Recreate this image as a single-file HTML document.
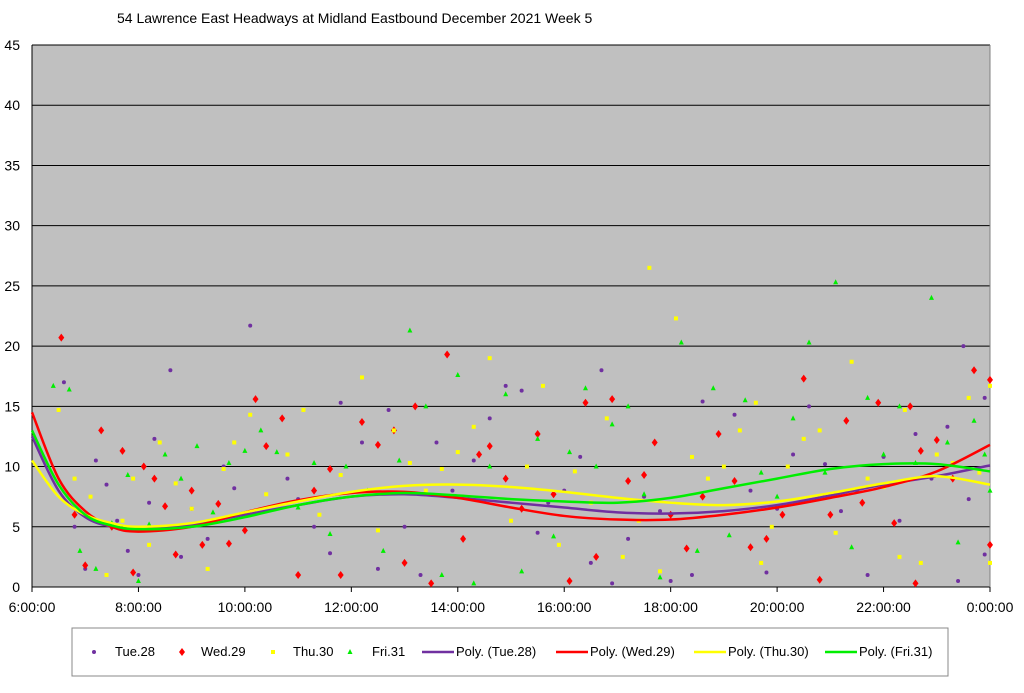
<!DOCTYPE html>
<html><head><meta charset="utf-8"><style>
body{margin:0;background:#fff;font-family:"Liberation Sans",Arial,sans-serif}
svg text{font-family:"Liberation Sans",Arial,sans-serif}
</style></head><body>
<svg id="chart" width="1024" height="688" xmlns="http://www.w3.org/2000/svg">
<rect width="1024" height="688" fill="#fff"/>
<text x="117" y="23" font-size="14" fill="#000">54 Lawrence East Headways at Midland Eastbound December 2021  Week 5</text>
<rect x="32" y="45" width="958" height="542" fill="#c0c0c0"/>
<g id="grid"></g><g id="axes"></g><g id="pts"></g><g id="trends"></g>
<rect x="72" y="628" width="876" height="48" fill="#fff" stroke="#888" stroke-width="1"/>
<g id="legend"></g>
</svg>
<script>
const yTicks=[0,5,10,15,20,25,30,35,40,45];
const xTickHours=[6,8,10,12,14,16,18,20,22,24];
const xTickLabels=["6:00:00","8:00:00","10:00:00","12:00:00","14:00:00","16:00:00","18:00:00","20:00:00","22:00:00","0:00:00"];
const seriesNames=["Tue.28","Wed.29","Thu.30","Fri.31"];
const tue=[[6.6,17],[6.8,5],[7,1.5],[7.2,10.5],[7.4,8.5],[7.6,5.5],[7.8,3],[8,1],[8.2,7],[8.3,12.3],[8.6,18],[8.8,2.5],[9,6.5],[9.3,4],[9.6,10],[9.8,8.2],[10.1,21.7],[10.4,11.7],[10.8,9],[11,7.3],[11.3,5],[11.6,2.8],[11.8,15.3],[12.2,12],[12.5,1.5],[12.7,14.7],[13,5],[13.3,1],[13.6,12],[13.9,8],[14.3,10.5],[14.6,14],[14.9,16.7],[15.2,16.3],[15.5,4.5],[15.7,7],[16,8],[16.3,10.8],[16.5,2],[16.7,18],[16.9,0.3],[17.2,4],[17.5,7.5],[17.8,6.3],[18,0.5],[18.4,1],[18.6,15.4],[18.9,12.7],[19.2,14.3],[19.5,8],[19.8,1.2],[20,6.5],[20.3,11],[20.6,15],[20.9,10.2],[21.2,6.3],[21.5,8],[21.7,1],[22,10.8],[22.3,5.5],[22.6,12.7],[22.9,9],[23.2,13.3],[23.5,20],[23.6,7.3],[23.9,15.7],[23.4,0.5],[23.9,2.7]];
const wed=[[6.55,20.7],[6.8,6],[7,1.8],[7.3,13],[7.5,5],[7.7,11.3],[7.9,1.2],[8.1,10],[8.3,9],[8.5,6.7],[8.7,2.7],[9,8],[9.2,3.5],[9.5,6.9],[9.7,3.6],[10,4.7],[10.2,15.6],[10.4,11.7],[10.7,14],[11,1],[11.3,8],[11.6,9.8],[11.8,1],[12.2,13.7],[12.5,11.8],[12.8,13],[13,2],[13.2,15],[13.5,0.3],[13.8,19.3],[14.1,4],[14.4,11],[14.6,11.7],[14.9,9],[15.2,6.5],[15.5,12.7],[15.8,7.7],[16.1,0.5],[16.4,15.3],[16.6,2.5],[16.9,15.6],[17.2,8.8],[17.5,9.3],[17.7,12],[18,6],[18.3,3.2],[18.6,7.5],[18.9,12.7],[19.2,8.8],[19.5,3.3],[19.8,4],[20.1,6],[20.5,17.3],[20.8,0.6],[21,6],[21.3,13.8],[21.6,7],[21.9,15.3],[22.2,5.3],[22.5,15],[22.7,11.3],[23,12.2],[23.3,9],[23.7,18],[24,17.2],[24,3.5],[22.6,0.3]];
const thu=[[6.5,14.7],[6.8,9],[7.1,7.5],[7.4,1],[7.7,5.5],[7.9,9],[8.2,3.5],[8.4,12],[8.7,8.6],[9,6.5],[9.3,1.5],[9.6,9.8],[9.8,12],[10.1,14.3],[10.4,7.7],[10.8,11],[11.1,14.7],[11.4,6],[11.8,9.3],[12.2,17.4],[12.5,4.7],[12.8,13],[13.1,10.3],[13.4,8],[13.7,9.8],[14,11.2],[14.3,13.3],[14.6,19],[15,5.5],[15.3,10],[15.6,16.7],[15.9,3.5],[16.2,9.6],[16.5,7],[16.8,14],[17.1,2.5],[17.4,5.5],[17.6,26.5],[17.8,1.3],[18.1,22.3],[18.4,10.8],[18.7,9],[19,10],[19.3,13],[19.6,15.3],[19.9,5],[20.2,10],[20.5,12.3],[20.8,13],[21.1,4.5],[21.4,18.7],[21.7,9],[22,8.3],[22.4,14.7],[22.7,2],[23,11],[23.3,10.3],[23.6,15.7],[23.8,9.5],[24,2],[24,16.7],[22.3,2.5],[19.7,2]];
const fri=[[6.4,16.7],[6.7,16.4],[6.9,3],[7.2,1.5],[7.5,5.3],[7.8,9.3],[8,0.5],[8.2,5.2],[8.5,11],[8.8,9],[9.1,11.7],[9.4,6.2],[9.7,10.3],[10,11.3],[10.3,13],[10.6,11.2],[11,6.6],[11.3,10.3],[11.6,4.4],[11.9,10],[12.3,8],[12.6,3],[12.9,10.5],[13.1,21.3],[13.4,15],[13.7,1],[14,17.6],[14.3,0.3],[14.6,10],[14.9,16],[15.2,1.3],[15.5,12.3],[15.8,4.2],[16.1,11.2],[16.4,16.5],[16.6,10],[16.9,13.5],[17.2,15],[17.5,7.7],[17.8,0.8],[18.2,20.3],[18.5,3],[18.8,16.5],[19.1,4.3],[19.4,15.5],[19.7,9.5],[20,7.5],[20.3,14],[20.6,20.3],[20.9,9.5],[21.1,25.3],[21.4,3.3],[21.7,15.7],[22,11],[22.3,15],[22.6,10.3],[22.9,24],[23.2,12],[23.4,3.7],[23.7,13.8],[23.9,11],[24,8]];
const trendHours=[6,6.5,7,7.5,8,9,10,11,12,13,14,15,16,17,18,19,20,21,22,23,24];
const trendTue=[12.5,8,5.8,5,4.8,5.2,6,6.8,7.5,7.7,7.4,7,6.6,6.2,6.1,6.3,6.8,7.6,8.5,9.2,10.1];
const trendWed=[14.5,9,6.3,5,4.6,5,6.2,7.2,7.8,7.9,7.4,6.6,5.9,5.6,5.6,6,6.6,7.4,8.3,9.6,11.8];
const trendThu=[10.5,7.5,6,5.3,5,5.3,6.2,7.1,7.9,8.4,8.5,8.3,7.9,7.4,7,6.8,7.1,7.8,8.6,9.2,8.5];
const trendFri=[13,8.5,6,5.1,4.8,5,5.8,6.8,7.5,7.8,7.6,7.3,7.1,7,7.4,8.2,9,9.8,10.2,10.2,9.6];

const NS="http://www.w3.org/2000/svg";
const X0=32,X1=990,Y0=587,Y1=45;
const xS=h=>X0+(h-6)/18*(X1-X0);
const yS=v=>Y0-v/45*(Y0-Y1);
function mk(tag,attrs,parent){const e=document.createElementNS(NS,tag);for(const k in attrs)e.setAttribute(k,attrs[k]);parent.appendChild(e);return e;}
const grid=document.getElementById('grid'),axes=document.getElementById('axes');
yTicks.forEach(t=>{
  const l=mk('line',{x1:X0,x2:X1,y1:yS(t),y2:yS(t),stroke:'#000','stroke-width':1},grid);
  
  
  const tx=mk('text',{x:20,y:yS(t)+5,'font-size':14,'text-anchor':'end',fill:'#000'},axes);
  tx.textContent=t;
  
  
});
mk('line',{x1:X0,x2:X0,y1:Y1,y2:Y0,stroke:'#000'},axes);
mk('line',{x1:X1,x2:X1,y1:Y1,y2:Y0,stroke:'#808080'},axes);
xTickHours.forEach((h,i)=>{
  mk('line',{x1:xS(h),x2:xS(h),y1:Y0,y2:Y0+5,stroke:'#000'},axes);
  const tx=mk('text',{x:xS(h),y:612,'font-size':14,'text-anchor':'middle',fill:'#000'},axes);
  tx.textContent=xTickLabels[i];
  
  
});
const cols=['#7030a0','#ff0000','#ffff00','#00ee00'];
function marker(kind,x,y,c,parent){
  let e;
  if(kind===0)e=mk('circle',{cx:x,cy:y,r:2,fill:c},parent);
  else if(kind===1)e=mk('polygon',{points:`${x},${y-4} ${x+3},${y} ${x},${y+4} ${x-3},${y}`,fill:c},parent);
  else if(kind===2)e=mk('rect',{x:x-2,y:y-2,width:4,height:4,fill:c},parent);
  else e=mk('polygon',{points:`${x},${y-3} ${x+2.5},${y+2} ${x-2.5},${y+2}`,fill:c},parent);
  return e;
}
const pts=document.getElementById('pts');
[tue,wed,thu,fri].forEach((s,k)=>s.forEach(p=>{
  const e=marker(k,xS(p[0]),yS(p[1]),cols[k],pts);
  
  
}));
function smooth(xs,ys){
  const P=xs.map((h,i)=>[xS(h),yS(ys[i])]);
  let d=`M${P[0][0]},${P[0][1]}`;
  for(let i=0;i<P.length-1;i++){
    const p0=P[Math.max(0,i-1)],p1=P[i],p2=P[i+1],p3=P[Math.min(P.length-1,i+2)];
    const c1=[p1[0]+(p2[0]-p0[0])/6,p1[1]+(p2[1]-p0[1])/6];
    const c2=[p2[0]-(p3[0]-p1[0])/6,p2[1]-(p3[1]-p1[1])/6];
    d+=` C${c1[0]},${c1[1]} ${c2[0]},${c2[1]} ${p2[0]},${p2[1]}`;
  }
  return d;
}
const tr=document.getElementById('trends');
[trendTue,trendWed,trendThu,trendFri].forEach((s,k)=>{
  const e=mk('path',{d:smooth(trendHours,s),fill:'none',stroke:cols[k],'stroke-width':2.5},tr);
  
  
});
const lg=document.getElementById('legend');const LY=656;
const mX=[94,182,273,350],tX=[115,201,293,372];
seriesNames.forEach((n,k)=>{
  const m=marker(k,mX[k],LY-4,cols[k],lg);
  
  
  const t=mk('text',{x:tX[k],y:LY,'font-size':13,fill:'#000'},lg);t.textContent=n;
  
  
});
const lX=[422,556,694,825];
seriesNames.forEach((n,k)=>{
  const l=mk('line',{x1:lX[k],x2:lX[k]+32,y1:LY-4,y2:LY-4,stroke:cols[k],'stroke-width':2.5},lg);
  
  
  const t=mk('text',{x:lX[k]+34,y:LY,'font-size':13,fill:'#000'},lg);t.textContent='Poly. ('+n+')';
  
  
});
</script>
</body></html>
